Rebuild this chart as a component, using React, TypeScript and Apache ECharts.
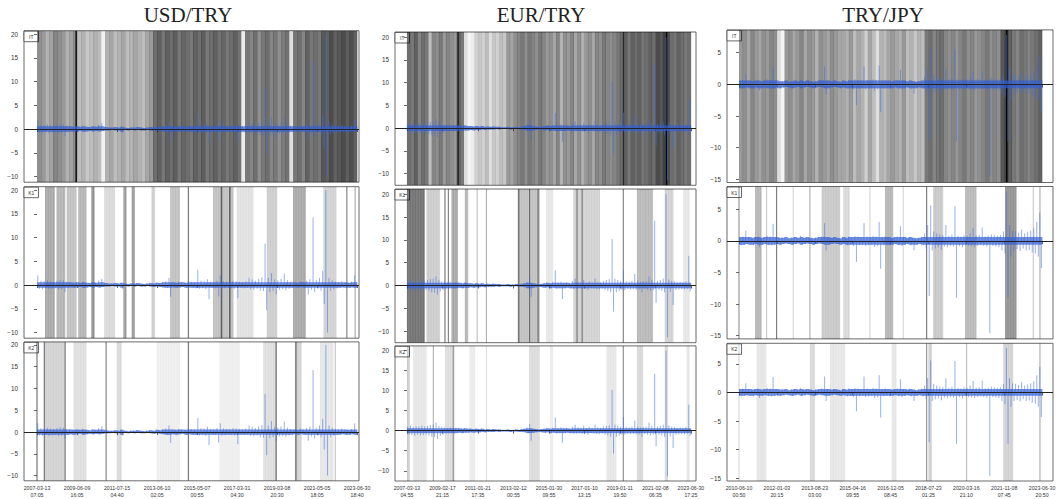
import React, { useEffect, useRef } from "react";
import * as echarts from "echarts";

const pairs = ["USD/TRY", "EUR/TRY", "TRY/JPY"];
const panelNames = ["IT", "K1", "K2"];
const tickPos = [0, 12.5, 25, 37.5, 50, 62.5, 75, 87.5, 100];

const usdTickLabels = ["2007-03-13\n07:05", "2009-06-09\n16:05", "2011-07-15\n04:40", "2013-06-10\n02:05", "2015-05-07\n00:55", "2017-03-31\n04:30", "2019-03-08\n20:30", "2021-05-05\n18:05", "2023-06-30\n18:40"];
const eurTickLabels = ["2007-03-13\n04:55", "2009-02-17\n21:15", "2011-01-21\n17:35", "2013-02-12\n00:55", "2015-01-30\n09:55", "2017-01-10\n13:15", "2019-01-11\n19:50", "2021-02-08\n06:35", "2023-06-30\n17:25"];
const jpyTickLabels = ["2010-06-10\n00:50", "2012-01-03\n20:15", "2013-08-23\n03:00", "2015-04-16\n09:55", "2016-12-05\n08:45", "2018-07-23\n01:25", "2020-03-16\n21:10", "2021-11-08\n07:45", "2023-06-30\n20:50"];

const usdYTicks = [-10, -5, 0, 5, 10, 15, 20];
const eurYTicks = [-10, -5, 0, 5, 10, 15, 20];
const jpyYTicks = [-15, -10, -5, 0, 5];

// returns: per-bin highs and lows
const usdHi = [2.0,0.9,0.8,1.0,0.8,0.7,0.9,1.1,1.0,0.7,0.6,0.5,0.6,0.5,0.7,0.5,0.4,0.6,0.5,0.9,1.3,0.4,0.3,0.3,0.4,0.3,0.5,0.3,0.2,0.3,0.3,0.4,0.3,0.2,0.3,0.4,0.3,0.5,0.4,0.6,0.8,1.5,0.6,0.5,0.7,0.6,0.5,0.8,0.7,0.6,3.2,0.9,0.8,1.2,0.7,0.6,0.9,2.0,0.8,0.7,0.6,0.9,0.8,0.7,0.6,0.8,1.5,1.2,0.9,1.3,1.6,8.7,1.5,2.5,1.2,1.0,1.3,2.4,1.0,0.7,0.6,0.5,0.8,0.6,0.9,1.2,14.2,1.0,1.5,3.0,20.0,1.5,1.0,0.7,0.6,0.8,0.6,0.5,0.7,2.0];
const usdLo = [-0.8,-0.9,-0.7,-0.9,-0.8,-0.7,-1.0,-0.9,-1.5,-0.7,-0.5,-0.6,-0.5,-0.4,-0.6,-0.5,-0.4,-0.5,-0.4,-0.5,-0.4,-0.3,-0.3,-0.2,-0.3,-0.3,-0.8,-0.2,-0.3,-0.2,-0.3,-0.2,-0.3,-0.3,-0.2,-0.3,-0.4,-0.3,-0.4,-0.5,-0.6,-2.5,-0.5,-0.6,-0.5,-0.4,-0.6,-0.5,-0.6,-0.7,-0.8,-0.7,-0.9,-3.0,-0.6,-0.7,-2.4,-0.8,-0.7,-0.6,-0.7,-0.8,-2.8,-0.6,-0.7,-0.6,-0.9,-1.0,-0.8,-1.2,-1.3,-5.3,-1.5,-1.2,-2.0,-1.0,-0.9,-1.1,-0.8,-0.6,-0.5,-0.6,-0.5,-0.7,-2.0,-1.0,-1.5,-0.8,-1.2,-4.0,-10.0,-1.2,-0.9,-0.7,-0.6,-0.5,-0.7,-0.6,-0.5,-0.6];

const eurHi = [1.0,1.2,0.9,1.1,1.0,1.3,1.1,1.2,1.4,1.5,2.0,1.2,0.9,0.8,0.7,0.8,0.6,0.7,0.6,0.5,0.6,0.5,0.5,0.4,0.5,0.4,0.5,0.3,0.4,0.3,0.4,0.3,0.3,0.2,0.2,0.3,0.2,0.2,0.3,0.2,0.4,0.5,0.8,1.7,0.5,0.4,0.3,0.4,0.5,0.6,0.5,0.7,3.3,0.6,0.8,0.6,0.7,0.5,1.0,1.5,0.8,0.7,1.2,0.6,0.9,0.7,1.5,0.8,0.7,1.0,1.2,1.4,10.2,1.5,1.2,1.0,3.4,0.9,0.8,1.0,2.5,1.0,0.8,0.9,1.0,2.0,1.2,14.2,1.0,1.2,1.5,20.0,1.3,1.0,0.9,0.7,0.8,0.7,0.9,6.5];
const eurLo = [-1.0,-1.1,-1.3,-1.0,-1.2,-1.1,-1.0,-1.2,-1.5,-1.6,-2.0,-1.3,-1.0,-0.8,-0.7,-0.6,-0.7,-0.6,-0.5,-0.6,-0.5,-0.5,-0.4,-0.5,-0.4,-0.4,-0.3,-0.4,-0.3,-0.3,-0.3,-0.2,-0.3,-0.2,-0.2,-0.2,-0.3,-0.2,-0.2,-0.3,-0.3,-0.4,-0.6,-2.5,-0.5,-0.4,-0.3,-0.4,-0.5,-0.4,-0.6,-0.5,-0.7,-0.6,-3.0,-0.6,-0.5,-0.7,-0.8,-0.7,-0.6,-0.8,-0.7,-1.0,-0.6,-0.7,-0.8,-0.9,-0.7,-1.0,-1.2,-1.5,-5.7,-1.5,-1.2,-1.0,-1.0,-0.8,-0.9,-0.8,-1.0,-0.9,-1.5,-0.8,-1.0,-1.2,-1.0,-3.8,-1.0,-1.2,-1.5,-11.4,-1.4,-4.3,-1.0,-0.9,-0.8,-0.9,-0.8,-1.3];

const jpyHi = [0.6,0.7,1.6,0.6,0.5,0.6,0.7,0.5,0.6,0.8,0.7,2.7,0.6,0.5,0.5,0.6,0.4,0.5,0.6,0.5,0.8,0.5,0.6,0.5,0.4,0.5,0.6,0.7,2.8,0.6,0.5,0.6,0.5,0.4,0.6,0.5,0.7,0.6,0.8,0.7,0.6,2.8,0.7,0.6,0.8,0.7,3.0,0.6,0.7,0.6,0.5,0.6,0.7,2.3,0.6,0.5,0.6,0.5,0.4,0.5,0.6,1.2,2.5,5.6,1.5,1.2,1.0,0.9,2.5,0.8,1.0,5.5,0.8,0.7,0.9,0.8,1.2,2.0,0.8,0.9,2.1,0.7,0.8,1.0,0.9,0.8,0.9,1.5,7.8,2.5,1.6,1.5,1.3,1.8,1.2,1.4,1.6,2.0,3.0,4.5];
const jpyLo = [-0.7,-0.6,-0.5,-0.6,-0.7,-0.5,-1.0,-0.6,-0.5,-0.6,-0.7,-0.6,-0.5,-0.6,-0.5,-0.4,-0.5,-0.6,-0.5,-0.4,-0.6,-0.5,-0.4,-0.5,-0.6,-0.5,-0.4,-0.5,-1.5,-0.6,-0.5,-0.4,-0.5,-0.6,-0.5,-0.7,-0.6,-0.8,-3.3,-0.7,-0.6,-0.8,-0.7,-0.6,-1.0,-0.8,-4.4,-0.7,-0.6,-0.7,-0.6,-0.5,-0.7,-0.8,-0.6,-0.5,-0.7,-1.5,-0.6,-0.5,-0.7,-1.2,-8.7,-1.5,-1.2,-1.0,-1.4,-0.9,-1.0,-0.8,-0.9,-9.0,-0.8,-1.0,-0.7,-0.8,-0.9,-1.0,-0.8,-0.7,-0.8,-0.9,-14.6,-0.8,-0.9,-1.0,-1.5,-2.0,-9.0,-2.5,-1.5,-1.3,-1.6,-1.2,-1.5,-1.4,-1.8,-2.0,-2.5,-4.3];

// IT shading: 80 equal segments, darkness (black alpha)
const usdIT = [0.44,0.4,0.3,0.36,0.48,0.44,0.4,0.3,0.36,0.44,0.26,0.3,0.22,0.26,0.3,0.26,0.06,0.3,0.35,0.26,0.3,0.35,0.26,0.3,0.35,0.3,0.26,0.35,0.4,0.57,0.62,0.53,0.62,0.57,0.63,0.53,0.6,0.57,0.53,0.62,0.57,0.63,0.53,0.57,0.62,0.55,0.6,0.53,0.57,0.62,0.55,0.08,0.53,0.48,0.57,0.44,0.53,0.57,0.48,0.53,0.44,0.51,0.55,0.12,0.53,0.57,0.48,0.62,0.53,0.57,0.53,0.66,0.62,0.7,0.62,0.66,0.7,0.63,0.69,0.62];
const eurIT = [0.57,0.53,0.62,0.48,0.57,0.53,0.26,0.48,0.44,0.53,0.4,0.48,0.44,0.4,0.62,0.53,0.13,0.04,0.07,0.18,0.22,0.18,0.26,0.13,0.22,0.18,0.26,0.22,0.4,0.35,0.44,0.48,0.53,0.44,0.53,0.48,0.44,0.53,0.48,0.4,0.44,0.35,0.48,0.3,0.44,0.4,0.48,0.35,0.44,0.3,0.4,0.44,0.35,0.48,0.44,0.53,0.48,0.44,0.48,0.53,0.57,0.62,0.53,0.62,0.57,0.62,0.53,0.57,0.62,0.57,0.7,0.66,0.75,0.7,0.57,0.53,0.62,0.57,0.53,0.57];
const jpyIT = [0.4,0.44,0.35,0.48,0.4,0.35,0.44,0.4,0.48,0.44,0.13,0.04,0.4,0.44,0.35,0.4,0.48,0.35,0.44,0.4,0.3,0.44,0.4,0.35,0.44,0.4,0.35,0.35,0.3,0.4,0.26,0.35,0.3,0.18,0.35,0.26,0.13,0.3,0.26,0.35,0.4,0.35,0.3,0.4,0.26,0.3,0.22,0.3,0.26,0.53,0.57,0.48,0.53,0.57,0.48,0.44,0.48,0.4,0.48,0.53,0.44,0.48,0.4,0.44,0.48,0.53,0.44,0.48,0.44,0.66,0.75,0.62,0.53,0.48,0.57,0.53,0.48,0.53,0.57,0.62];
// thin dark lines in IT panels: [position, alpha]
const usdITLines = [[12.2, 0.9]];
const eurITLines = [[18.0, 0.7], [76.2, 0.6], [91.4, 0.9]];
const jpyITLines = [[88.3, 0.9]];

// K1 / K2 shaded bands: [start, end, alpha]
const usdK1 = [[2.5,5.6,0.35],[6.1,8.8,0.3],[9.3,12.4,0.25],[12.9,15.5,0.3],[17,18,0.45],[21,24.4,0.15],[27,28,0.4],[29.6,30.6,0.4],[35.8,36.9,0.2],[41.6,44.7,0.25],[47.1,47.5,0.5],[55,61.4,0.25],[57.4,57.9,0.5],[60,60.5,0.5],[62.4,67.6,0.12],[71.8,75,0.2],[80,84,0.35],[89.5,93.6,0.18],[96.6,97,0.45],[99.2,99.6,0.3]];
const usdK2 = [[-0.2,0.2,0.5],[2.1,2.5,0.5],[2.5,8.7,0.18],[8.6,9.0,0.45],[11.4,15.5,0.13],[21.4,21.8,0.45],[24.9,26.5,0.15],[37.4,44.7,0.07],[47.1,47.5,0.5],[57,63.4,0.07],[70.7,74.9,0.13],[74.5,74.9,0.5],[80.6,82.7,0.18],[80.7,81.1,0.5],[88.4,92.6,0.1],[93,93.4,0.2]];
const eurK1 = [[0,6.3,0.6],[6.9,11.6,0.2],[13.2,13.6,0.55],[14.4,14.8,0.5],[15.7,18,0.35],[20.4,21.6,0.3],[24.5,25,0.2],[27.8,28.2,0.3],[39,46.8,0.25],[39.2,39.6,0.5],[43,43.4,0.45],[46,46.4,0.45],[49,51.5,0.1],[58.6,68,0.18],[59.7,60.1,0.45],[61.5,61.9,0.45],[76,76.4,0.5],[81,86.7,0.28],[90.8,93.8,0.18],[97.3,99.6,0.1]];
const eurK2 = [[0,1,0.2],[2.2,6.9,0.1],[9.1,9.5,0.3],[13.4,16.9,0.13],[16.1,16.5,0.35],[22,24,0.08],[27.8,28.2,0.12],[43,46.8,0.14],[50.4,51.5,0.08],[70.3,73.8,0.1],[76,76.4,0.45],[81,83.2,0.15],[90.8,92,0.15],[98.5,99.6,0.1]];
const jpyK1 = [[-0.2,0.2,0.4],[5.3,7.5,0.3],[8.9,9.3,0.2],[12.2,12.6,0.5],[17.7,18.1,0.15],[23.2,23.6,0.3],[27.3,33.3,0.22],[34.4,36.6,0.15],[43,43.4,0.15],[48.2,50.9,0.3],[54,54.4,0.15],[61.7,62.1,0.5],[64.1,67.4,0.22],[74.6,78.4,0.28],[87.8,91.6,0.45],[96.9,97.3,0.2],[99.1,99.5,0.3]];
const jpyK2 = [[-0.2,0.2,0.15],[5.8,9.1,0.1],[23.4,25.1,0.15],[30,35,0.1],[50.4,52,0.1],[61.7,62.1,0.4],[62.5,63.7,0.18],[74.9,75.3,0.25],[87.2,90.5,0.18],[99.1,99.5,0.3]];

// layout
const layout = [
  { left: 24, width: 335, xMin: -4.06, xMax: 100.6, yMin: -11.2, yMax: 20.7, titleX: 188, rows: [[30.7, 151.5], [186.7, 151.5], [341.9, 138.9]] },
  { left: 395, width: 301, xMin: -4.2, xMax: 101.8, yMin: -12.55, yMax: 21.15, titleX: 541, rows: [[32, 153.3], [189, 153.7], [345.9, 141.5]] },
  { left: 727, width: 326, xMin: -3.96, xMax: 103.6, yMin: -15.5, yMax: 8.6, titleX: 883, rows: [[29.9, 152.6], [186.5, 152.4], [343.3, 140.3]] },
];

const pairData = [
  { hi: usdHi, lo: usdLo, it: usdIT, itLines: usdITLines, k1: usdK1, k2: usdK2, ticks: usdTickLabels, yTicks: usdYTicks },
  { hi: eurHi, lo: eurLo, it: eurIT, itLines: eurITLines, k1: eurK1, k2: eurK2, ticks: eurTickLabels, yTicks: eurYTicks },
  { hi: jpyHi, lo: jpyLo, it: jpyIT, itLines: jpyITLines, k1: jpyK1, k2: jpyK2, ticks: jpyTickLabels, yTicks: jpyYTicks },
];

const segRows = (arr: number[]) => arr.map((a, j) => [(j * 100) / arr.length, ((j + 1) * 100) / arr.length, a, 0]);
const lineRows = (arr: number[][]) => arr.map(([x, a]) => [x - 0.2, x + 0.2, a, 0]);
const kRows = (arr: number[][]) => arr.map(([a, b, c]) => [a, b, c, 1]);
const binRows = (hi: number[], lo: number[]) => hi.map((h, i) => [i + 0.5, lo[i], h]);

const FONT = "Liberation Sans, Arial, sans-serif";
const CORE = 0.6;
const BLUE = "rgba(45,90,210,0.68)";
const BLUE_SPIKE = "rgba(65,110,225,0.62)";

function bandRender(params: any, api: any) {
  const a = api.coord([api.value(0), 0]);
  const b = api.coord([api.value(1), 0]);
  const cs = params.coordSys;
  const x0 = Math.max(a[0], cs.x);
  const x1 = Math.min(b[0], cs.x + cs.width);
  const w = Math.max(x1 - x0, 0.8);
  const al = api.value(2);
  const striped = api.value(3) === 1 && w > 2.5;
  if (!striped) {
    return { type: "rect", shape: { x: x0, y: cs.y, width: w + (api.value(3) === 0 ? 0.25 : 0), height: cs.height }, style: { fill: "rgba(0,0,0," + al + ")" } };
  }
  const children: any[] = [
    { type: "rect", shape: { x: x0, y: cs.y, width: w, height: cs.height }, style: { fill: "rgba(0,0,0," + al * 0.75 + ")" } },
  ];
  for (let x = x0 + 0.5; x < x0 + w; x += 1.6) {
    children.push({ type: "line", shape: { x1: x, y1: cs.y, x2: x, y2: cs.y + cs.height }, style: { stroke: "rgba(0,0,0," + al * 0.6 + ")", lineWidth: 0.6 } });
  }
  return { type: "group", children };
}

function signalRender(params: any, api: any) {
  const x = api.value(0);
  const lo = api.value(1);
  const hi = api.value(2);
  const xc = api.coord([x, 0])[0];
  const w = api.size([1, 0])[0];
  const y0 = api.coord([x, 0])[1];
  const yHi = api.coord([x, hi])[1];
  const yLo = api.coord([x, lo])[1];
  const cHi = api.coord([x, Math.min(hi, CORE)])[1];
  const cLo = api.coord([x, Math.max(lo, -CORE)])[1];
  return {
    type: "group",
    children: [
      { type: "rect", shape: { x: xc - w / 2, y: cHi, width: w + 0.3, height: Math.max(cLo - cHi, 0.5) }, style: { fill: BLUE } },
      { type: "line", shape: { x1: xc - w / 4, y1: y0, x2: xc - w / 4, y2: yHi }, style: { stroke: BLUE_SPIKE, lineWidth: 0.9 } },
      { type: "line", shape: { x1: xc + w / 4, y1: y0, x2: xc + w / 4, y2: yLo }, style: { stroke: BLUE_SPIKE, lineWidth: 0.9 } },
    ],
  };
}

function buildOption() {
  const grid: any[] = [];
  const xAxis: any[] = [];
  const yAxis: any[] = [];
  const series: any[] = [];
  const graphic: any[] = [];
  let gi = 0;
  layout.forEach((L, c) => {
    const P = pairData[c];
    graphic.push({
      type: "text", x: L.titleX, y: 15, z: 10,
      style: { text: pairs[c], fontSize: 21, fontFamily: "Liberation Serif, Times New Roman, serif", fill: "#222", align: "center", verticalAlign: "middle" },
    });
    L.rows.forEach(([top, height], r) => {
      grid.push({ left: L.left, top, width: L.width, height, show: true, borderColor: "#444", borderWidth: 0.8, backgroundColor: "transparent", containLabel: false });
      xAxis.push({
        type: "value", gridIndex: gi, min: L.xMin, max: L.xMax,
        axisLine: { show: false },
        splitLine: { show: false },
        axisTick: { show: true, customValues: tickPos, length: 3, inside: false, lineStyle: { color: "#444", width: 0.8 } },
        axisLabel: {
          show: r === 2, customValues: tickPos, fontSize: 5.2, fontFamily: FONT, color: "#333", margin: 3, lineHeight: 7.5,
          formatter: (v: number) => {
            const k = tickPos.findIndex((t) => Math.abs(t - v) < 1e-6);
            return k >= 0 ? P.ticks[k] : "";
          },
        },
      });
      yAxis.push({
        type: "value", gridIndex: gi, min: L.yMin, max: L.yMax,
        axisLine: { show: false },
        splitLine: { show: false },
        axisTick: { show: true, customValues: P.yTicks, length: 3, inside: false, lineStyle: { color: "#444", width: 0.8 } },
        axisLabel: {
          show: true, customValues: P.yTicks, fontSize: 6.3, fontFamily: FONT, color: "#333", margin: 6,
          formatter: (v: number) => (v < 0 ? "\u2212" + Math.abs(v) : String(v)),
        },
      });
      const bands = r === 0 ? segRows(P.it).concat(lineRows(P.itLines)) : kRows(r === 1 ? P.k1 : P.k2);
      series.push({
        type: "custom", xAxisIndex: gi, yAxisIndex: gi, z: 1, silent: true, clip: true,
        data: bands,
        encode: { x: [0, 1] },
        renderItem: bandRender,
      });
      series.push({
        type: "custom", xAxisIndex: gi, yAxisIndex: gi, z: 3, silent: true, clip: true,
        data: binRows(P.hi, P.lo),
        encode: { x: 0, y: [1, 2] },
        renderItem: signalRender,
      });
      series.push({
        type: "line", xAxisIndex: gi, yAxisIndex: gi, z: 4, silent: true,
        data: [], showSymbol: false,
        markLine: {
          silent: true, symbol: ["none", "none"], label: { show: false },
          lineStyle: { color: "#222", width: 1, type: "solid" },
          data: [{ yAxis: 0 }],
        },
      });
      graphic.push({
        type: "group", x: L.left, y: top + 0.5, z: 20,
        children: [
          { type: "rect", shape: { x: 0, y: 0, width: 14.5, height: 10.5 }, style: { fill: "#fff", stroke: "#444", lineWidth: 0.8 } },
          { type: "text", x: 7.25, y: 5.5, style: { text: panelNames[r], fontSize: 5, fontFamily: FONT, fill: "#333", align: "center", verticalAlign: "middle" } },
        ],
      });
      gi++;
    });
  });
  return { animation: false, backgroundColor: "#fff", grid, xAxis, yAxis, series, graphic };
}

export default function App() {
  const ref = useRef<HTMLDivElement>(null);
  useEffect(() => {
    if (!ref.current) return;
    const chart = echarts.init(ref.current, undefined, { renderer: "svg" });
    chart.setOption(buildOption() as any);
    return () => chart.dispose();
  }, []);
  return <div ref={ref} style={{ position: "fixed", left: 0, top: 0, width: 1060, height: 499 }} />;
}
